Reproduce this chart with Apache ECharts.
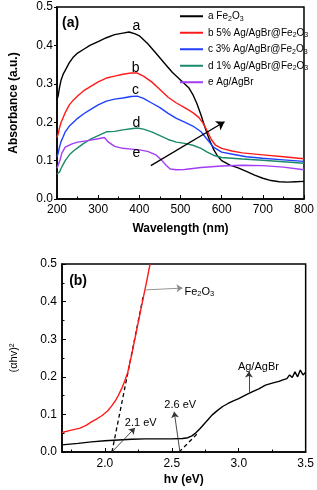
<!DOCTYPE html>
<html><head><meta charset="utf-8">
<script src="https://cdn.jsdelivr.net/npm/echarts@6/dist/echarts.min.js"></script>
<style>html,body{margin:0;padding:0;background:#fff}#c{width:317px;height:490px}</style>
</head><body><div id="c"></div>
<script>
// ---------- Panel (a): absorbance spectra ----------
const wlA = [200,203,206,210,215,220,230,240,250,265,280,300,320,340,360,375,390,400,420,440,460,480,500,520,530,540,550,560,570,580,590,600,620,640,660,680,700,720,740,760,780,800];
const absA = [0.258,0.27,0.29,0.31,0.325,0.335,0.355,0.37,0.38,0.39,0.40,0.41,0.42,0.428,0.432,0.435,0.43,0.425,0.405,0.38,0.355,0.33,0.31,0.29,0.272,0.248,0.218,0.185,0.155,0.13,0.112,0.10,0.088,0.081,0.072,0.062,0.054,0.048,0.045,0.044,0.045,0.046];
const wlB = [200,203,206,210,215,220,230,240,250,265,280,300,320,340,360,380,395,410,430,450,470,490,510,530,545,555,565,575,585,600,625,650,700,750,800];
const absB = [0.16,0.17,0.185,0.2,0.212,0.225,0.245,0.258,0.268,0.282,0.292,0.305,0.315,0.32,0.325,0.328,0.328,0.32,0.305,0.285,0.265,0.25,0.238,0.225,0.212,0.197,0.177,0.155,0.14,0.132,0.125,0.12,0.115,0.11,0.105];
const wlC = [200,203,206,210,215,220,230,240,250,265,280,300,320,340,360,380,395,410,430,450,470,490,510,530,550,565,580,600,630,660,700,750,800];
const absC = [0.11,0.12,0.135,0.15,0.162,0.175,0.19,0.2,0.21,0.222,0.232,0.245,0.255,0.26,0.263,0.267,0.268,0.262,0.25,0.238,0.223,0.21,0.2,0.19,0.175,0.155,0.135,0.122,0.116,0.11,0.106,0.102,0.098];
const wlD = [200,203,206,210,215,220,230,240,250,265,280,300,320,340,360,380,395,410,430,450,470,490,510,530,550,565,580,600,650,700,750,800];
const absD = [0.065,0.062,0.07,0.08,0.09,0.10,0.115,0.125,0.133,0.145,0.155,0.165,0.175,0.176,0.18,0.183,0.185,0.182,0.175,0.165,0.155,0.148,0.145,0.14,0.132,0.122,0.114,0.108,0.104,0.101,0.097,0.093];
const wlE = [200,203,207,212,220,235,250,275,300,315,325,340,360,380,400,420,440,455,465,475,490,510,550,600,650,700,750,800];
const absE = [0.08,0.075,0.1,0.12,0.135,0.143,0.148,0.152,0.157,0.16,0.148,0.137,0.132,0.13,0.128,0.124,0.115,0.1,0.088,0.078,0.076,0.077,0.082,0.086,0.088,0.087,0.083,0.076];
const seriesNamesA = ['a','b','c','d','e'];
const legendTextA = ['a Fe{s|2}O{s|3}','b 5% Ag/AgBr@Fe{s|2}O{s|3}','c 3% Ag/AgBr@Fe{s|2}O{s|3}','d 1% Ag/AgBr@Fe{s|2}O{s|3}','e Ag/AgBr'];
const ticksA_x = [200,300,400,500,600,700,800];
const ticksA_y = [0.0,0.1,0.2,0.3,0.4,0.5];

// ---------- Panel (b): Tauc plot ----------
const eFe = [1.68,1.75,1.81,1.86,1.90,1.94,1.98,2.02,2.05,2.08,2.10,2.13,2.15,2.17,2.20,2.24,2.28,2.31,2.338];
const vFe = [0.052,0.058,0.063,0.071,0.080,0.088,0.097,0.109,0.122,0.137,0.150,0.172,0.19,0.21,0.258,0.328,0.398,0.45,0.50];
const eAg = [1.68,1.8,1.9,2.0,2.1,2.2,2.3,2.4,2.5,2.58,2.62,2.65,2.68,2.71,2.74,2.77,2.80,2.84,2.88,2.92,2.96,3.00,3.05,3.10,3.15,3.20,3.25,3.30,3.33,3.36,3.38,3.40,3.42,3.44,3.46,3.48,3.5];
const vAg = [0.019,0.023,0.027,0.030,0.032,0.034,0.035,0.035,0.035,0.036,0.038,0.043,0.051,0.062,0.074,0.086,0.098,0.110,0.121,0.129,0.136,0.142,0.151,0.160,0.168,0.178,0.183,0.188,0.192,0.195,0.205,0.198,0.213,0.200,0.218,0.205,0.212];
const tanFeE = [2.053,2.29], tanFeV = [0,0.42];
const tanAgE = [2.555,2.70], tanAgV = [0,0.052];
const ticksB_x = [2.0,2.5,3.0,3.5];
const minorB_x = [1.75,2.25,2.75,3.25];
const ticksB_y = [0.0,0.1,0.2,0.3,0.4,0.5];

// annotation anchors (data coordinates)
const arrowsA = [[[428,0.087],[607,0.201]]];
const arrowsB = [
  {c:[[2.297,0.431],[2.58,0.436]], col:'#888'},
  {c:[[3.076,0.156],[3.076,0.214]], col:'#333'},
  {c:[[2.561,0],[2.518,0.107]], col:'#333'},
  {c:[[2.053,0],[2.225,0.064]], col:'#333'}
];
const labelsA = [
  {x:393,y:0.449,t:'a'},{x:391,y:0.34,t:'b'},{x:391,y:0.284,t:'c'},{x:393,y:0.197,t:'d'},{x:393,y:0.119,t:'e'}
];

const FONT = 'Liberation Sans, Arial, sans-serif';
const colorsA = ['#000000','#ff1a1a','#1f3fff','#1a8a6a','#a23cf5'];

const pairs = (xs, ys) => xs.map((x,i)=>[x, ys[i]]);
const chart = echarts.init(document.getElementById('c'), null, {renderer:'canvas'});

const lineS = (name, xs, ys, color, xi, yi, z) => ({
  type:'line', name, xAxisIndex:xi, yAxisIndex:yi, data:pairs(xs,ys),
  showSymbol:false, symbol:'none', lineStyle:{color, width:1.4}, itemStyle:{color},
  z: z||2, animation:false, silent:true
});

const dataA = [[wlA,absA],[wlB,absB],[wlC,absC],[wlD,absD],[wlE,absE]];
const series = dataA.map((d,i)=>lineS(seriesNamesA[i], d[0], d[1], colorsA[i], 0, 0, 2));

series.push({
  type:'lines', coordinateSystem:'cartesian2d', xAxisIndex:0, yAxisIndex:0,
  data: arrowsA.map(c=>({coords:c})), symbol:['none','arrow'], symbolSize:8,
  lineStyle:{color:'#000', width:1.3, curveness:0, opacity:1}, effect:{show:false}, z:5, animation:false, silent:true
});

// panel b
series.push({type:'line', name:'tanFe', xAxisIndex:1, yAxisIndex:1, data:pairs(tanFeE,tanFeV), showSymbol:false, symbol:'none',
  lineStyle:{color:'#000', width:1.3, type:[4,3]}, z:2, animation:false, silent:true});
series.push({type:'line', name:'tanAg', xAxisIndex:1, yAxisIndex:1, data:pairs(tanAgE,tanAgV), showSymbol:false, symbol:'none',
  lineStyle:{color:'#000', width:1.3, type:[4,3]}, z:2, animation:false, silent:true});
series.push(lineS('Fe2O3', eFe, vFe, '#ff1a1a', 1, 1, 3));
series.push(lineS('Ag/AgBr', eAg, vAg, '#000000', 1, 1, 3));
arrowsB.forEach(a=>{
  series.push({
    type:'lines', coordinateSystem:'cartesian2d', xAxisIndex:1, yAxisIndex:1,
    data:[{coords:a.c}], symbol:['none','arrow'], symbolSize:6,
    lineStyle:{color:a.col, width:0.9, curveness:0, opacity:1}, effect:{show:false}, z:5, animation:false, silent:true
  });
});

const axisLineS = {show:true, lineStyle:{color:'#000', width:1.5}};
const labelS = {color:'#000', fontSize:12, fontFamily:FONT};

const option = {
  animation:false,
  backgroundColor:'#fff',
  grid:[
    {left:49, right:11, top:7, height:192, show:true, borderColor:'#000', borderWidth:1.5, containLabel:false},
    {left:55, right:10, top:264, height:188, show:true, borderColor:'#000', borderWidth:1.5, containLabel:false}
  ],
  legend:{
    data:seriesNamesA, orient:'vertical', left:175, top:5, icon:'rect', itemWidth:23, itemHeight:2, itemGap:4,
    selectedMode:false,
    formatter:(n)=>legendTextA[seriesNamesA.indexOf(n)],
    textStyle:{fontSize:10, fontFamily:FONT, color:'#000', lineHeight:12.5,
      rich:{s:{fontSize:7, fontFamily:FONT, color:'#000', verticalAlign:'bottom', lineHeight:7}}}
  },
  xAxis:[
    {gridIndex:0, type:'value', min:200, max:800, interval:100,
      axisLine:axisLineS, axisTick:{inside:true, length:4, lineStyle:{color:'#000'}},
      minorTick:{show:true, splitNumber:2, length:2.5, lineStyle:{color:'#000'}},
      axisLabel:Object.assign({margin:5}, labelS), splitLine:{show:false},
      name:'Wavelength (nm)', nameLocation:'middle', nameGap:24,
      nameTextStyle:{fontWeight:'bold', fontSize:12, fontFamily:FONT, color:'#000'}},
    {gridIndex:1, type:'value', min:1.68, max:3.5,
      axisLine:axisLineS, axisTick:{inside:true, length:4, lineStyle:{color:'#000'}, customValues:ticksB_x},
      axisLabel:Object.assign({margin:6, customValues:ticksB_x, formatter:v=>v.toFixed(1)}, labelS), splitLine:{show:false},
      name:'hv (eV)', nameLocation:'middle', nameGap:22,
      nameTextStyle:{fontWeight:'bold', fontSize:12, fontFamily:FONT, color:'#000'}},
    {gridIndex:1, type:'value', min:1.68, max:3.5, position:'bottom',
      axisLine:{show:false}, axisTick:{inside:true, length:2.5, lineStyle:{color:'#000'}, customValues:minorB_x},
      axisLabel:{show:false}, splitLine:{show:false}}
  ],
  yAxis:[
    {gridIndex:0, type:'value', min:0, max:0.5, interval:0.1,
      axisLine:axisLineS, axisTick:{inside:false, length:3, lineStyle:{color:'#000'}},
      axisLabel:Object.assign({margin:4, formatter:v=>v.toFixed(1)}, labelS), splitLine:{show:false},
      name:'Absorbance (a.u.)', nameLocation:'middle', nameGap:37,
      nameTextStyle:{fontWeight:'bold', fontSize:12, fontFamily:FONT, color:'#000'}},
    {gridIndex:1, type:'value', min:0, max:0.5, interval:0.1,
      axisLine:axisLineS, axisTick:{inside:true, length:4, lineStyle:{color:'#000'}},
      minorTick:{show:true, splitNumber:2, length:2.5, lineStyle:{color:'#000'}},
      axisLabel:Object.assign({margin:5, formatter:v=>v.toFixed(1)}, labelS), splitLine:{show:false},
      name:'(αhv)²', nameLocation:'middle', nameGap:43,
      nameTextStyle:{fontSize:11, fontFamily:FONT, color:'#000'}}
  ],
  series
};
chart.setOption(option);

// text annotations placed through the axes' scales
const P0 = (x,y)=>chart.convertToPixel({xAxisIndex:0, yAxisIndex:0}, [x,y]);
const P1 = (x,y)=>chart.convertToPixel({xAxisIndex:1, yAxisIndex:1}, [x,y]);
const txt = (p, text, font, extra) => Object.assign({
  type:'text', x:p[0], y:p[1], z:10, silent:true,
  style:Object.assign({text, font, fill:'#000', textAlign:'center', textVerticalAlign:'middle'}, extra||{})
});
const graphics = [];
labelsA.forEach(l=>graphics.push(txt(P0(l.x,l.y), l.t, '14px '+FONT)));
graphics.push(txt(P0(233,0.459), '(a)', 'bold 14px '+FONT));
graphics.push(txt(P1(1.80,0.454), '(b)', 'bold 14px '+FONT));
graphics.push(txt(P1(2.706,0.426), 'Fe{s|2}O{s|3}', '11px '+FONT,
  {rich:{s:{fontSize:7.5, fontFamily:FONT, verticalAlign:'bottom', lineHeight:7}}, lineHeight:13}));
graphics.push(txt(P1(3.147,0.226), 'Ag/AgBr', '11px '+FONT));
graphics.push(txt(P1(2.563,0.125), '2.6 eV', '11px '+FONT));
graphics.push(txt(P1(2.268,0.077), '2.1 eV', '11px '+FONT));
chart.setOption({graphic:graphics});
</script></body></html>
